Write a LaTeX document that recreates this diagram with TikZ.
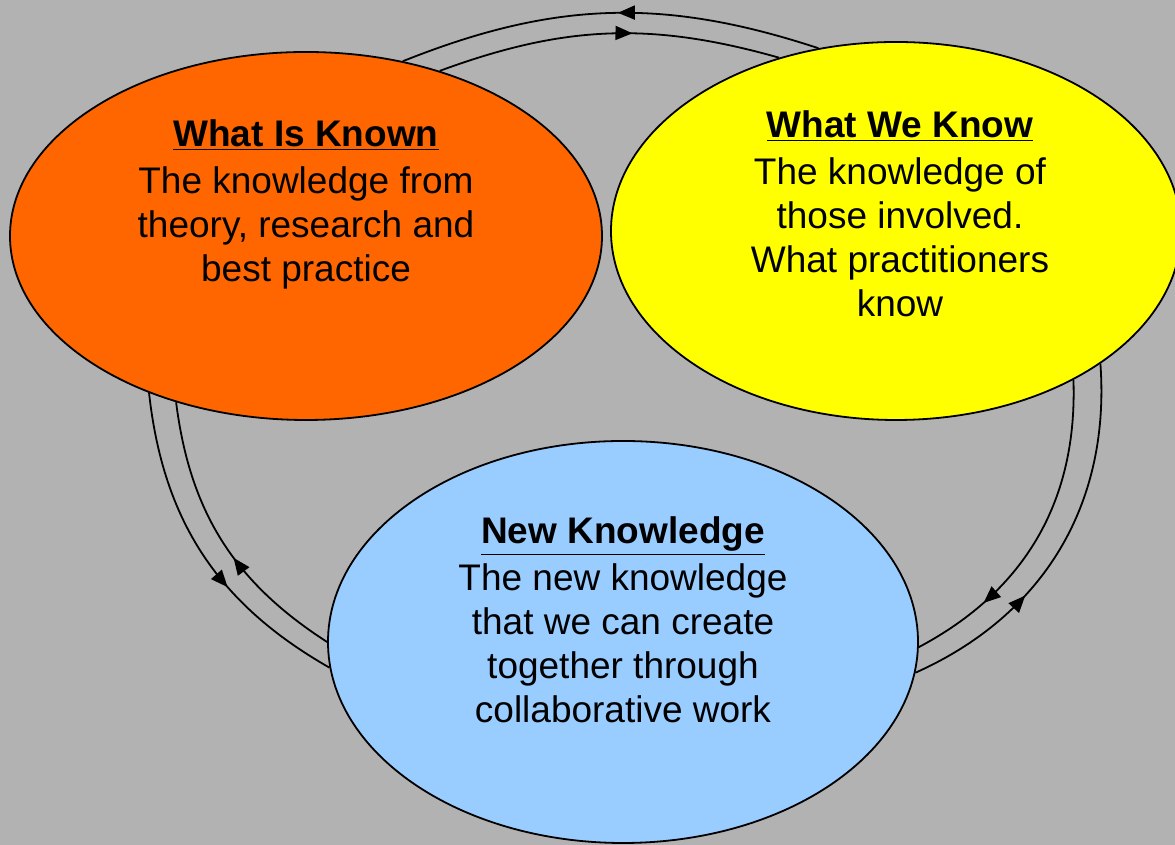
\documentclass[tikz,border=0pt]{standalone}
\usepackage{fontspec}
\setmainfont{Liberation Sans}
\usetikzlibrary{positioning, arrows.meta, shapes.geometric, decorations.markings}
\definecolor{bggray}{HTML}{B2B2B2}
\definecolor{knownorange}{HTML}{FF6600}
\definecolor{weknowyellow}{HTML}{FFFF00}
\definecolor{newblue}{HTML}{99CCFF}
\newcommand{\cycletip}{Triangle[length=8.5pt,width=7pt]}
\newcommand{\titleline}[1]{\underline{\textbf{#1}}}

\tikzset{
    bubble/.style={ellipse, draw, line width=0.9pt, inner sep=0pt},
    bubbletext/.style={align=center, font=\fontsize{18.5}{22}\selectfont},
    cycle/.style={line width=0.9pt, postaction={decorate, decoration={markings,
        mark=at position #1 with {\arrow{\cycletip}}}}}
}

\begin{document}
\begin{tikzpicture}[x=0.5pt, y=0.5pt]
        \fill[bggray] (0,0) rectangle (1175,845);
        \useasboundingbox (0,0) rectangle (1175,845);

        \node[bubble, fill=knownorange, minimum width=296pt, minimum height=184pt] (known) at (306,609) {};
        \node[bubble, fill=weknowyellow, minimum width=285pt, minimum height=189pt] (weknow) at (896,614) {};
        \node[bubble, fill=newblue, minimum width=295pt, minimum height=201pt] (newk) at (623,203) {};

        \node[bubbletext] (knowntext) at (306,641) {\titleline{What Is Known}\\[1.5pt]
            The knowledge from\\ theory, research and\\ best practice};
        \node[bubbletext] (weknowtext) at (900,631) {\titleline{What We Know}\\[1.5pt]
            The knowledge of\\ those involved.\\ What practitioners\\ know};
        \node[bubbletext] (newktext) at (623,225) {\titleline{New Knowledge}\\[1.5pt]
            The new knowledge\\ that we can create\\ together through\\ collaborative work};

        % top pair
        \draw[cycle=0.48] (weknow.113.6) to[bend right=20] (known.61);
        \draw[cycle=0.57] (known.51.4) to[bend left=18] (weknow.124.4);
        % left pair
        \draw[cycle=0.62] (known.225) to[bend right=27] (newk.185.8);
        \draw[cycle=0.43] (newk.180) to[bend left=25] (known.232.4);
        % right pair
        \draw[cycle=0.76] (weknow.320.2) to[bend left=32] (newk.-1);
        \draw[cycle=0.35] (newk.-6.4) to[bend right=35] (weknow.327);
    \end{tikzpicture}
\end{document}
